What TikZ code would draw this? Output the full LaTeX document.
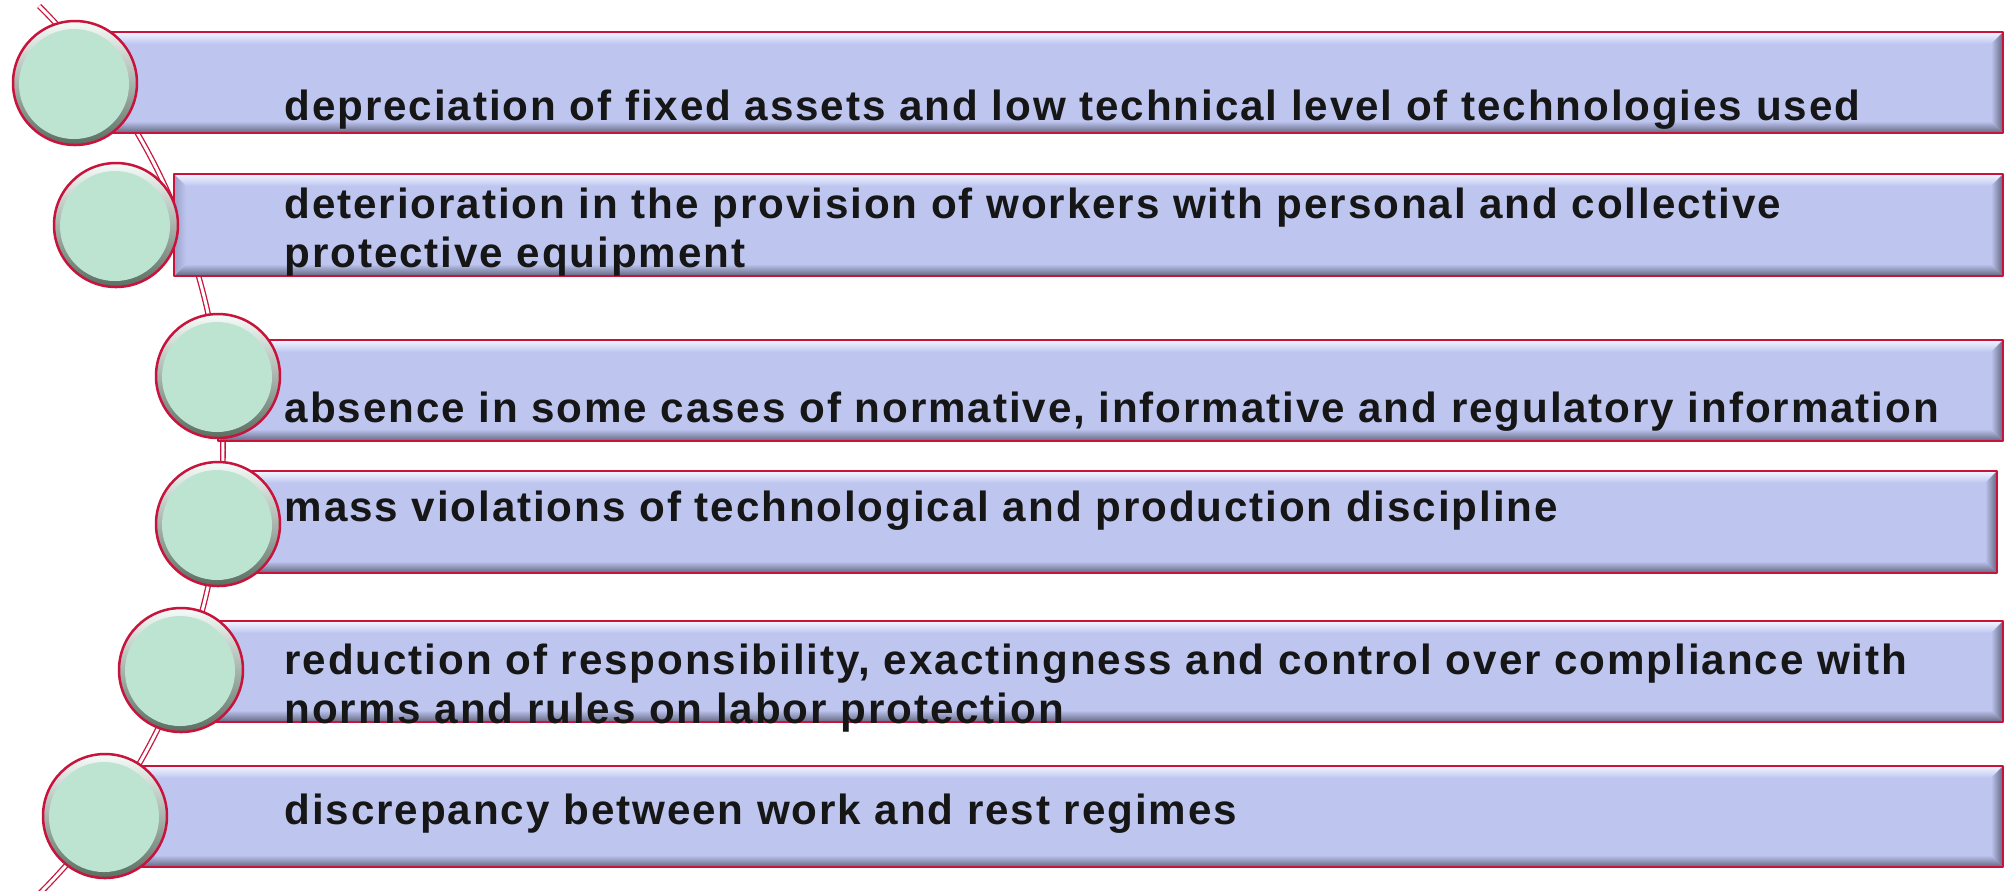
\documentclass[tikz,border=0pt]{standalone}
\usepackage{fontspec}
\setmainfont{Liberation Sans}[LetterSpace=4.5]

\definecolor{barblue}{HTML}{BEC6F0}
\definecolor{barlight}{HTML}{F4F6FF}
\definecolor{bardark}{HTML}{62667F}
\definecolor{barmid}{HTML}{9AA0C6}
\definecolor{rimred}{HTML}{C8143C}
\definecolor{mint}{HTML}{BDE4D1}
\definecolor{balldark}{HTML}{5A6E62}
\definecolor{ballhi}{HTML}{F6FCF9}
\definecolor{inktext}{HTML}{161616}

\begin{document}
\begin{tikzpicture}[x=0.1mm, y=-0.1mm, line join=round,
  ringline/.style={draw=rimred, double=white, line width=0.13mm, double distance=0.3mm},
  barrim/.style={draw=rimred, line width=0.25mm},
  bartext/.style={anchor=north west, inner sep=0pt, align=left, text=inktext,
    font=\fontsize{12}{13.9}\selectfont\bfseries}]

  \useasboundingbox (0,0) rectangle (2005,890);
  \fill[white] (0,0) rectangle (2005,890);

  \coordinate (arcC) at (-405,450);
  \draw[ringline] (arcC) ++(-45:628) arc[start angle=-45,end angle=45,radius=628];

  \foreach \L/\T/\R/\B in {75/32/2003/133, 174/174/2003/276, 218/340/2003/441,
                           218/471/1997/573, 181/621/2003/722, 105/766/2003/867}{
    \fill[barblue] (\L,\T) rectangle (\R,\B);
    \shade[top color=barlight, bottom color=barblue] (\L,\T) -- (\R,\T) -- (\R-12,\T+12) -- (\L+12,\T+12) -- cycle;
    \shade[top color=barblue, bottom color=bardark] (\L+12,\B-12) -- (\R-12,\B-12) -- (\R,\B) -- (\L,\B) -- cycle;
    \shade[left color=barblue, right color=bardark] (\R-12,\T+12) -- (\R,\T) -- (\R,\B) -- (\R-12,\B-12) -- cycle;
    \shade[left color=barmid, right color=barblue] (\L,\T) -- (\L+12,\T+12) -- (\L+12,\B-12) -- (\L,\B) -- cycle;
    \draw[barrim] (\L,\T) rectangle (\R,\B);
  }

  \foreach \cx/\cy in {75/83, 116/225, 218/376, 218/524, 181/670, 105/816}{
    \shade[top color=ballhi, bottom color=balldark] (\cx,\cy) circle (62);
    \fill[mint] (\cx-1,\cy+1) circle (55);
    \draw[barrim] (\cx,\cy) circle (62);
  }

  \node[bartext] (t1) at (284,89) {depreciation of fixed assets and low technical level of technologies used};
  \node[bartext] (t2) at (284,187) {deterioration in the provision of workers with personal and collective\\protective equipment};
  \node[bartext] (t3) at (284,391) {absence in some cases of normative, informative and regulatory information};
  \node[bartext] (t4) at (284,490) {mass violations of technological and production discipline};
  \node[bartext] (t5) at (284,643) {reduction of responsibility, exactingness and control over compliance with\\norms and rules on labor protection};
  \node[bartext] (t6) at (284,793) {discrepancy between work and rest regimes};

\end{tikzpicture}
\end{document}
